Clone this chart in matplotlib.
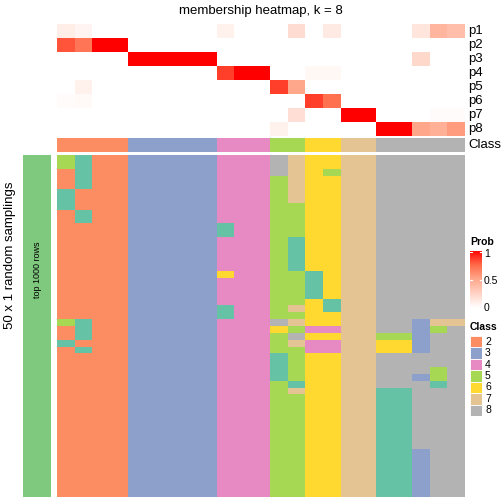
import matplotlib
matplotlib.use("Agg")
import matplotlib.pyplot as plt
import numpy as np
from matplotlib.colors import ListedColormap, LinearSegmentedColormap

plt.rcParams["font.family"] = ["Liberation Sans", "DejaVu Sans"]

# ── data ───────────────────────────────────────────────────────────────
ROW_NAMES = ["p1", "p2", "p3", "p4", "p5", "p6", "p7", "p8"]
P1 = [0.10, 0.06, 0, 0, 0, 0, 0, 0, 0, 0.08, 0, 0, 0, 0.20, 0, 0.12, 0, 0, 0, 0, 0.15, 0.42, 0.37]
P2 = [0.80, 0.70, 1, 1, 0, 0, 0, 0, 0, 0, 0, 0, 0, 0, 0, 0, 0, 0, 0, 0, 0, 0, 0]
P3 = [0, 0, 0, 0, 1, 1, 1, 1, 1, 0, 0, 0, 0, 0, 0, 0, 0, 0, 0, 0, 0.22, 0, 0]
P4 = [0, 0, 0, 0, 0, 0, 0, 0, 0, 0.85, 1, 1, 0, 0, 0.04, 0.04, 0, 0, 0, 0, 0, 0, 0]
P5 = [0, 0.08, 0, 0, 0, 0, 0, 0, 0, 0, 0, 0, 0.85, 0.50, 0, 0, 0, 0, 0, 0, 0, 0, 0]
P6 = [0.02, 0.03, 0, 0, 0, 0, 0, 0, 0, 0, 0, 0, 0, 0, 0.85, 0.72, 0, 0, 0, 0, 0, 0, 0]
P7 = [0, 0, 0, 0, 0, 0, 0, 0, 0, 0, 0, 0, 0, 0.18, 0, 0, 1, 1, 0, 0, 0, 0.02, 0.02]
P8 = [0, 0, 0, 0, 0, 0, 0, 0, 0, 0, 0, 0, 0.08, 0, 0, 0, 0, 0, 1, 1, 0.50, 0.45, 0.55]

CLASSES = [2, 2, 2, 2, 3, 3, 3, 3, 3, 4, 4, 4, 5, 5, 6, 6, 7, 7, 8, 8, 8, 8, 8]

# one string per random sampling, one digit per sample (class label)
SAMPLINGS = [
    "5122 33333 444 87 66 77 88888",
    "5122 33333 444 87 66 77 88888",
    "2122 33333 444 87 65 77 88888",
    "2122 33333 444 57 66 77 88888",
    "2122 33333 444 57 66 77 88888",
    "1222 33333 444 57 66 77 88888",
    "1222 33333 444 57 66 77 88888",
    "1222 33333 444 55 66 77 88888",
    "2122 33333 444 55 66 77 88888",
    "2122 33333 444 55 66 77 88888",
    "2222 33333 144 55 66 77 88888",
    "2222 33333 144 55 66 77 88888",
    "2222 33333 444 51 66 77 88888",
    "2222 33333 444 51 66 77 88888",
    "2222 33333 444 51 66 77 88888",
    "2222 33333 444 51 66 77 88888",
    "2222 33333 444 51 66 77 88888",
    "2222 33333 644 55 16 77 88888",
    "2222 33333 444 55 16 77 88888",
    "2222 33333 444 55 16 77 88888",
    "2222 33333 444 55 16 77 88888",
    "2222 33333 444 55 61 77 88888",
    "2222 33333 144 57 61 77 88888",
    "2222 33333 144 55 66 77 88888",
    "5122 33333 444 87 66 77 88377",
    "2122 33333 444 65 44 77 88358",
    "2122 33333 444 58 66 77 55388",
    "1222 33333 444 57 44 77 66388",
    "2122 33333 444 55 44 77 66388",
    "2222 33333 444 15 66 77 88888",
    "2222 33333 444 15 66 77 88888",
    "2222 33333 444 15 66 77 88858",
    "2222 33333 444 15 66 77 88358",
    "2222 33333 444 51 66 77 88818",
    "2222 33333 444 57 66 77 11888",
    "2222 33333 444 55 66 77 11888",
    "2222 33333 444 55 66 77 11888",
    "2222 33333 444 55 66 77 11888",
    "2222 33333 444 55 66 77 11888",
    "2222 33333 444 55 66 77 11888",
    "2222 33333 444 55 66 77 11888",
    "2222 33333 444 55 66 77 11888",
    "2222 33333 444 55 66 77 11888",
    "2222 33333 444 55 66 77 11388",
    "2222 33333 444 55 66 77 11388",
    "2222 33333 444 55 66 77 11388",
    "2222 33333 444 55 66 77 11388",
    "2222 33333 444 55 66 77 11388",
    "2222 33333 444 55 66 77 11388",
    "2222 33333 444 55 66 77 11388",
]

LEGEND_CLASSES = [2, 3, 4, 5, 6, 7, 8]
SET2 = ["#66C2A5", "#FC8D62", "#8DA0CB", "#E78AC3",
        "#A6D854", "#FFD92F", "#E5C494", "#B3B3B3"]

# ── layout helpers (pixel coords, origin top-left) ─────────────────────
W = H = 504


def box(x0, y0, x1, y1):
    return [x0 / W, 1 - y1 / H, (x1 - x0) / W, (y1 - y0) / H]


def ftext(x, y, s, **kw):
    fig.text(x / W, 1 - y / H, s, **kw)


prob_cmap = LinearSegmentedColormap.from_list(
    "prob", [(0, "#FFFFFF"), (0.5, "#FFA88C"), (0.75, "#FF6A48"), (1, "#FF0000")])
class_cmap = ListedColormap(SET2)

prob = np.array([P1, P2, P3, P4, P5, P6, P7, P8])
samp = np.array([[int(c) for c in s.replace(" ", "")] for s in SAMPLINGS])

fig = plt.figure(figsize=(5.04, 5.04), dpi=100)

X0, X1 = 57, 465

ax = fig.add_axes(box(X0, 24, X1, 136))
ax.imshow(prob, cmap=prob_cmap, vmin=0, vmax=1, aspect="auto", interpolation="nearest")
ax.set_axis_off()

ax = fig.add_axes(box(X0, 138, X1, 152))
ax.imshow(np.array([CLASSES]), cmap=class_cmap, vmin=0.5, vmax=8.5,
          aspect="auto", interpolation="nearest")
ax.set_axis_off()

ax = fig.add_axes(box(X0, 155, X1, 497))
ax.imshow(samp, cmap=class_cmap, vmin=0.5, vmax=8.5, aspect="auto", interpolation="nearest")
ax.set_axis_off()

# left annotation bar
ax = fig.add_axes(box(23, 155, 51, 497))
ax.set_facecolor("#7FC97F")
ax.set_xticks([])
ax.set_yticks([])
for s in ax.spines.values():
    s.set_visible(False)

ftext(37, 270, "top 1000 rows", rotation=90, ha="center", va="center", fontsize=6.5)
ftext(10, 255, "50 x 1 random samplings", rotation=90, ha="center", va="center", fontsize=9.5)

# title and row labels
ftext(261, 11, "membership heatmap, k = 8", ha="center", va="center", fontsize=9.5)
for i, name in enumerate(ROW_NAMES):
    ftext(468, 24 + 14 * i + 7, name, ha="left", va="center", fontsize=9.5)
ftext(468, 145, "Class", ha="left", va="center", fontsize=9.5)

# Prob colour bar
ftext(470, 242, "Prob", ha="left", va="center", fontsize=7.5, fontweight="bold")
cax = fig.add_axes(box(470, 251, 482, 308))
grad = np.linspace(1, 0, 200).reshape(-1, 1)
cax.imshow(grad, cmap=prob_cmap, vmin=0, vmax=1, aspect="auto", extent=[0, 1, 0, 1])
for v in (1.0, 0.5):
    yv = 0.985 if v == 1.0 else v
    cax.plot([0, 0.18], [yv, yv], color="white", lw=0.8)
    cax.plot([0.82, 1], [yv, yv], color="white", lw=0.8)
cax.set_xlim(0, 1)
cax.set_ylim(0, 1)
cax.set_axis_off()
for yp, lab in ((254, "1"), (281, "0.5"), (308, "0")):
    ftext(484, yp, lab, ha="left", va="center", fontsize=7.5)

# Class legend
ftext(470, 327, "Class", ha="left", va="center", fontsize=7.5, fontweight="bold")
lax = fig.add_axes(box(470, 336, 482, 416))
for i, c in enumerate(LEGEND_CLASSES):
    lax.add_patch(plt.Rectangle((0, len(LEGEND_CLASSES) - 1 - i), 1, 1,
                                facecolor=SET2[c - 1], edgecolor="white", lw=0.6))
    ftext(485, 336 + 11.4 * i + 5.7, str(c), ha="left", va="center", fontsize=7.5)
lax.set_xlim(0, 1)
lax.set_ylim(0, len(LEGEND_CLASSES))
lax.set_axis_off()

fig.savefig("out.png", dpi=100)
